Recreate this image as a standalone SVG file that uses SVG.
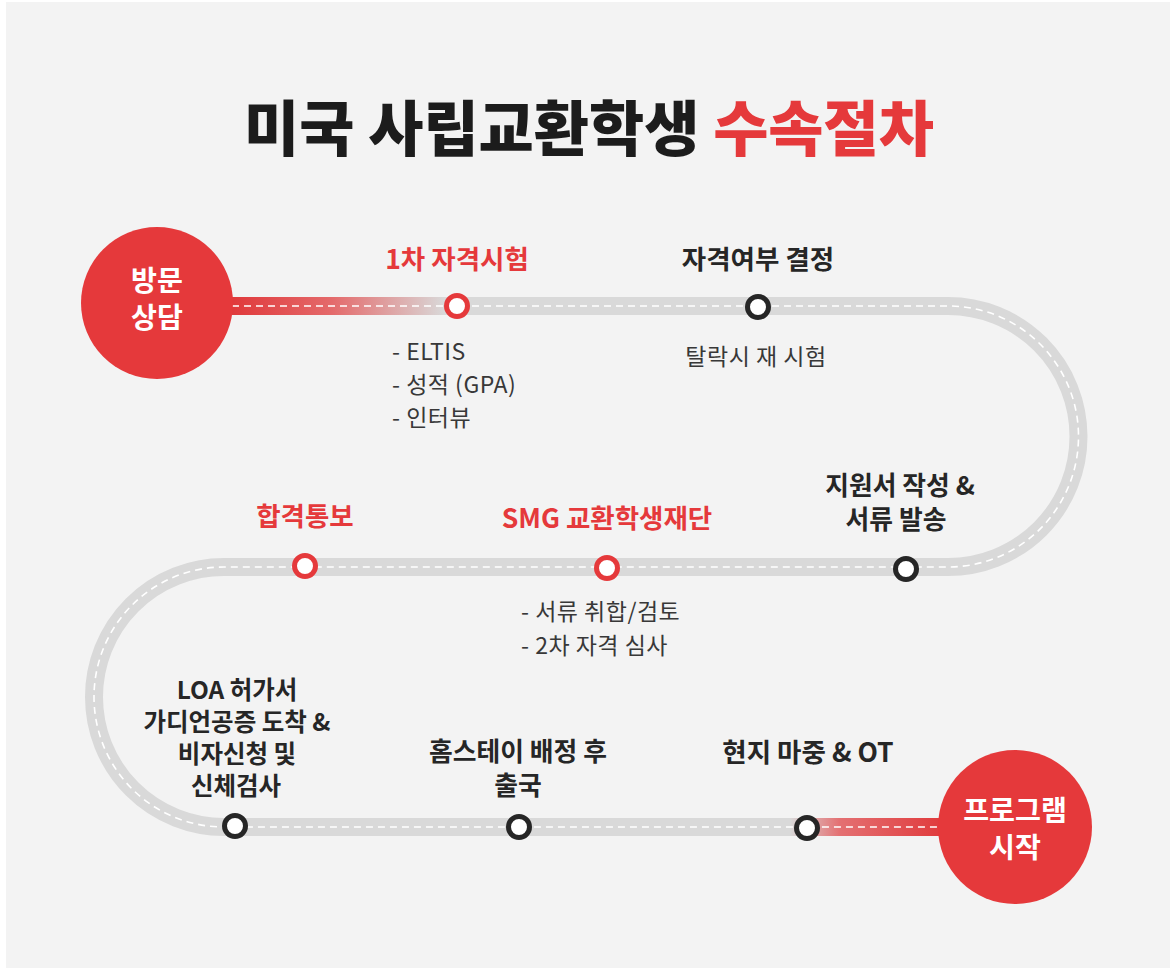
<svg xmlns="http://www.w3.org/2000/svg" width="1176" height="972" viewBox="0 0 1176 972">
  <defs>
    <style>
      .t { font-family: "Noto Sans CJK KR", "Noto Sans", sans-serif; }
      .b { font-weight: 700; fill: #262626; font-size: 26.5px; text-anchor: middle; }
      .s { font-size: 24.5px; }
      .m { font-size: 25.8px; }
      .r { font-weight: 700; fill: #e5393b; font-size: 26.5px; text-anchor: middle; }
      .n { font-weight: 400; fill: #383838; font-size: 23px; letter-spacing: 0.5px; }
      .w { font-weight: 700; fill: #ffffff; font-size: 28.2px; text-anchor: middle; }
      .road { fill: none; stroke: #d9d9d9; stroke-width: 18; }
      .dash { fill: none; stroke: #ffffff; stroke-width: 1.6; stroke-dasharray: 7 5; }
      .ringR { fill: #ffffff; stroke: #e5393b; stroke-width: 5; }
      .ringB { fill: #ffffff; stroke: #262626; stroke-width: 5; }
      .big { fill: #e5393b; }
    </style>
    <linearGradient id="gStart" gradientUnits="userSpaceOnUse" x1="232" y1="0" x2="445" y2="0">
      <stop offset="0" stop-color="#e0393b"/>
      <stop offset="0.47" stop-color="#e46a6b"/>
      <stop offset="1" stop-color="#d9d9d9"/>
    </linearGradient>
    <linearGradient id="gEnd" gradientUnits="userSpaceOnUse" x1="790" y1="0" x2="945" y2="0">
      <stop offset="0" stop-color="#d9d9d9"/>
      <stop offset="0.32" stop-color="#e47072"/>
      <stop offset="1" stop-color="#e0393b"/>
    </linearGradient>
  </defs>

  <rect x="0" y="0" width="1176" height="972" fill="#ffffff"/>
  <rect x="6" y="2" width="1164" height="966" fill="#f3f3f3"/>

  <g id="title" class="t">
    <text x="589" y="151" font-size="60" font-weight="900" text-anchor="middle" fill="#1c1c1c">미국 사립교환학생 <tspan fill="#e5393b">수속절차</tspan></text>
  </g>

  <g id="connectors">
    <path class="road" d="M 232 306 H 948 A 130.5 130.5 0 0 1 948 567 H 224 A 130 130 0 0 0 224 827 H 945"/>
    <rect x="232" y="297" width="213" height="18" fill="url(#gStart)"/>
    <rect x="790" y="818" width="155" height="18" fill="url(#gEnd)"/>
    <path class="dash" d="M 232 306 H 948 A 130.5 130.5 0 0 1 948 567 H 224 A 130 130 0 0 0 224 827 H 945"/>
  </g>

  <g id="start" class="t">
    <circle class="big" cx="157" cy="303" r="76"/>
    <text class="w" x="157" y="291">방문</text>
    <text class="w" x="157" y="328">상담</text>
  </g>

  <g id="step1" class="t">
    <circle class="ringR" cx="457" cy="306" r="10.5"/>
    <text class="r" x="457" y="269">1차 자격시험</text>
    <text class="n" x="392" y="360">- ELTIS</text>
    <text class="n" x="392" y="393">- 성적 (GPA)</text>
    <text class="n" x="392" y="426">- 인터뷰</text>
  </g>

  <g id="step2" class="t">
    <circle class="ringB" cx="758" cy="307" r="10.5"/>
    <text class="b" x="758" y="269">자격여부 결정</text>
    <text class="n" x="756" y="365" text-anchor="middle">탈락시 재 시험</text>
  </g>

  <g id="step3" class="t">
    <circle class="ringB" cx="906" cy="569" r="10.5"/>
    <text class="b m" x="900" y="495">지원서 작성 &amp;</text>
    <text class="b m" x="896" y="529">서류 발송</text>
  </g>

  <g id="step4" class="t">
    <circle class="ringR" cx="607" cy="568" r="10.5"/>
    <text class="r" x="607" y="528">SMG 교환학생재단</text>
    <text class="n" x="521" y="620">- 서류 취합/검토</text>
    <text class="n" x="521" y="654">- 2차 자격 심사</text>
  </g>

  <g id="step5" class="t">
    <circle class="ringR" cx="305" cy="566" r="10.5"/>
    <text class="r" x="305" y="526">합격통보</text>
  </g>

  <g id="step6" class="t">
    <circle class="ringB" cx="235" cy="826" r="10.5"/>
    <text class="b s" x="237" y="699">LOA 허가서</text>
    <text class="b s" x="237" y="731">가디언공증 도착 &amp;</text>
    <text class="b s" x="237" y="763">비자신청 및</text>
    <text class="b s" x="236" y="795">신체검사</text>
  </g>

  <g id="step7" class="t">
    <circle class="ringB" cx="519" cy="827" r="10.5"/>
    <text class="b m" x="518" y="761">홈스테이 배정 후</text>
    <text class="b m" x="518" y="795">출국</text>
  </g>

  <g id="step8" class="t">
    <circle class="ringB" cx="807" cy="828" r="10.5"/>
    <text class="b" x="808" y="762">현지 마중 &amp; OT</text>
  </g>

  <g id="end" class="t">
    <circle class="big" cx="1015" cy="827" r="77"/>
    <text class="w" x="1015" y="821">프로그램</text>
    <text class="w" x="1015" y="858">시작</text>
  </g>
</svg>
